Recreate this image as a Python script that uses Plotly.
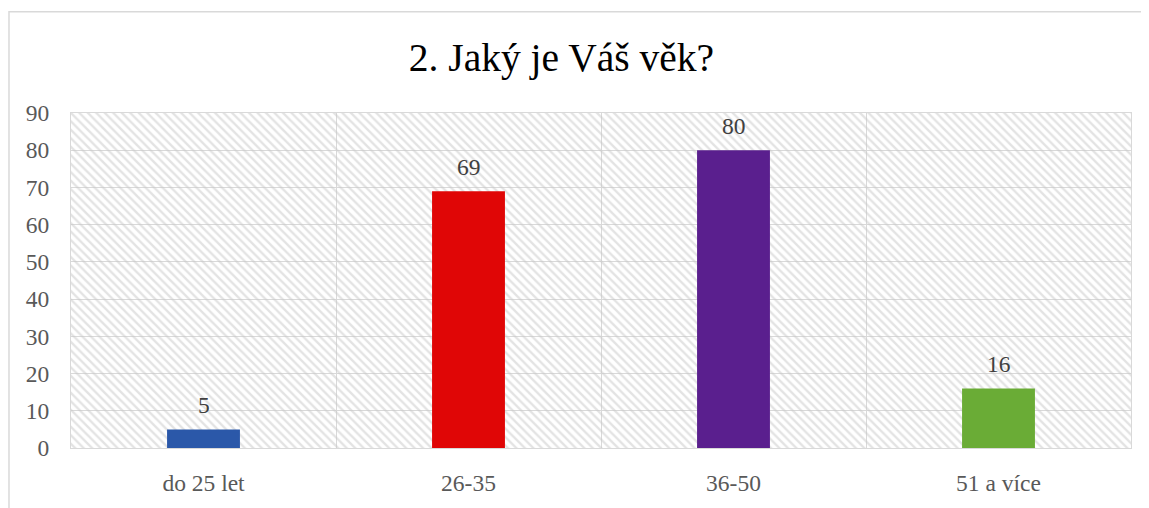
import plotly.graph_objects as go

# ── Data ────────────────────────────────────────────────────────────────────
categories = ["do 25 let", "26-35", "36-50", "51 a více"]
counts = [5, 69, 80, 16]
bar_colors = ["#2b58a9", "#e00606", "#5a1f8e", "#6aac36"]
y_ticks = [0, 10, 20, 30, 40, 50, 60, 70, 80, 90]
Y_MAX = 90

FONT = "Liberation Serif"
GRID = "#d9d9d9"

fig = go.Figure()

# hatched background of the plot area
fig.add_trace(
    go.Bar(
        x=categories, y=[Y_MAX] * len(categories), width=1,
        marker=dict(
            color="rgba(0,0,0,0)", line=dict(width=0),
            pattern=dict(shape="\\", fgcolor="#c8c8c8", bgcolor="rgba(0,0,0,0)",
                         size=6, solidity=0.4, fillmode="overlay"),
        ),
        hoverinfo="skip", showlegend=False,
    )
)

# ── Bars ────────────────────────────────────────────────────────────────────
fig.add_trace(
    go.Bar(
        x=categories, y=counts, width=0.275,
        marker=dict(color=bar_colors, line=dict(width=0)),
        showlegend=False,
    )
)

# value labels above bars
for cat, val in zip(categories, counts):
    fig.add_annotation(
        x=cat, y=val, text=str(val), showarrow=False,
        yanchor="bottom", yshift=9,
        font=dict(family=FONT, size=23.5, color="#404040"),
    )

# outer chart frame
fig.add_shape(
    type="rect", xref="paper", yref="paper",
    x0=-0.0585, x1=1.2, y0=-0.5, y1=1.302,
    line=dict(color=GRID, width=1.5), fillcolor="rgba(0,0,0,0)", layer="below",
)

# ── Layout ──────────────────────────────────────────────────────────────────
fig.update_layout(
    width=1141, height=500,
    paper_bgcolor="white", plot_bgcolor="white",
    barmode="overlay",
    margin=dict(l=63, r=18, t=105, b=49),
    title=dict(
        text="2. Jaký je Váš věk?", x=553.5 / 1141, xanchor="center",
        y=1 - 49 / 500, yanchor="middle",
        font=dict(family=FONT, size=39.5, color="#000000"),
    ),
    xaxis=dict(
        type="category", tickson="boundaries", showgrid=True, gridcolor=GRID,
        gridwidth=1.3, showline=True, linecolor=GRID, linewidth=1.3, mirror=True,
        ticks="", ticklabelstandoff=14, zeroline=False,
        tickfont=dict(family=FONT, size=23.5, color="#595959"),
    ),
    yaxis=dict(
        range=[0, Y_MAX], tickvals=y_ticks, showgrid=True, gridcolor=GRID,
        gridwidth=1.3, showline=True, linecolor=GRID, linewidth=1.3, mirror=True,
        zeroline=False, ticks="", ticklabelstandoff=16,
        tickfont=dict(family=FONT, size=23.5, color="#595959"),
    ),
)

fig.write_html("out.html")
